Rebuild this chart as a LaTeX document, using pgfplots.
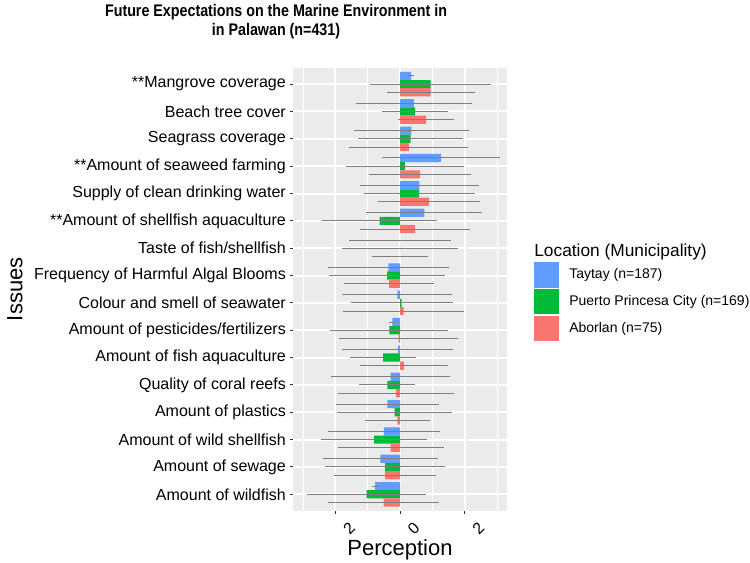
\documentclass[border=0pt]{standalone}
\usepackage{fontspec}
\setmainfont{Liberation Sans}
\newfontfamily\titlefont[FakeStretch=0.85]{Liberation Sans}
\usepackage{pgfplots}
\usepackage{pgfplotstable}
\pgfplotsset{compat=1.18}

\definecolor{tay}{HTML}{619CFF}
\definecolor{ppc}{HTML}{00BA38}
\definecolor{abo}{HTML}{F8766D}
\definecolor{panel}{HTML}{EBEBEB}
\definecolor{errc}{HTML}{7F7F7F}

% y = issue (1 = top), v = mean perception, e = half width of error bar
\pgfplotstableread{
y v e
1 0.34 0.03
2 0.43 1.73
3 0.35 1.715
4 1.27 1.77
5 0.60 1.79
6 0.75 1.735
7 0.00 1.52
8 -0.36 1.805
9 -0.08 1.645
10 -0.24 0.03
11 -0.07 1.665
12 -0.29 1.785
13 -0.39 1.525
14 -0.50 1.67
15 -0.61 1.725
16 -0.77 0.03
}\taytay

\pgfplotstableread{
y v e
1 0.95 1.815
2 0.47 0.965
3 0.33 1.57
4 0.15 1.775
5 0.59 1.66
6 -0.63 1.715
7 0.00 1.725
8 -0.40 1.74
9 0.05 1.52
10 -0.33 1.765
11 -0.52 0.955
12 -0.39 0.81
13 -0.17 1.72
14 -0.80 1.58
15 -0.46 1.795
16 -1.03 1.785
}\puerto

\pgfplotstableread{
y v e
1 0.95 1.31
2 0.81 0.80
3 0.27 1.78
4 0.62 1.52
5 0.90 1.52
6 0.47 1.65
7 0.00 0.81
8 -0.34 1.325
9 0.11 1.815
10 -0.04 1.79
11 0.12 1.315
12 -0.13 1.735
13 -0.08 0.955
14 -0.29 1.585
15 -0.46 1.51
16 -0.51 1.655
}\aborlan

\begin{document}
\begin{tikzpicture}
\begin{axis}[
    name=ax,
    scale only axis,
    width=160.05pt, height=332.25pt,
    xmin=-3.3, xmax=3.3,
    ymin=0.4, ymax=16.6,
    y dir=reverse,
    axis background/.style={fill=panel},
    axis line style={draw=none},
    xtick={-2,0,2},
    xticklabels={2,0,2},
    minor xtick={-3,-1,1,3},
    ytick={1,...,16},
    yticklabels={**Mangrove coverage, Beach tree cover, Seagrass coverage,
        **Amount of seaweed farming, Supply of clean drinking water,
        **Amount of shellfish aquaculture, Taste of fish/shellfish,
        Frequency of Harmful Algal Blooms, Colour and smell of seawater,
        Amount of pesticides/fertilizers, Amount of fish aquaculture,
        Quality of coral reefs, Amount of plastics, Amount of wild shellfish,
        Amount of sewage, Amount of wildfish},
    grid=both,
    major grid style={white, line width=1.5pt},
    minor grid style={white, line width=0.75pt},
    xtick pos=bottom, ytick pos=left,
    tick align=outside,
    major tick length=2.75pt,
    minor tick length=0pt,
    tick style={black!80, line width=0.75pt},
    yticklabel style={font=\fontsize{12}{14}\selectfont, inner sep=0pt, xshift=-2.7pt},
    xticklabel style={font=\fontsize{12}{14}\selectfont, rotate=45, anchor=center, inner sep=0pt, yshift=-14.5pt},
    every axis title shift=0pt,
    title={Future Expectations on the Marine Environment in\\in Palawan (n=431)},
    title style={at={(axis description cs:-0.081,1.1438)}, anchor=north, inner sep=0pt,
        align=center, font=\titlefont\bfseries\fontsize{12.6}{14.6}\selectfont},
    xlabel={Perception},
    xlabel style={at={(axis description cs:0.5,0)}, anchor=north, inner sep=0pt,
        yshift=-21.5pt, font=\fontsize{16.5}{19}\selectfont},
    ylabel={Issues},
    ylabel style={at={(axis description cs:-1.342,0.5)}, anchor=north, inner sep=0pt,
        font=\fontsize{16.5}{19}\selectfont},
    xbar,
    bar width=0.3,
    bar shift=0pt,
    error bars/error bar style={errc, line width=0.75pt},
    error bars/error mark options={errc, line width=0.75pt, mark size=1.4pt},
    legend image code/.code={\fill[#1] (0pt,-9.55pt) rectangle (18.75pt,9.55pt);},
    legend cell align=left,
    legend style={at={(axis description cs:1.128,0.562)}, anchor=north west,
        draw=none, fill=none, inner sep=0pt, row sep=1.1pt, column sep=7.5pt,
        font=\fontsize{10.5}{12}\selectfont, nodes={inner sep=0pt}},
]
\addplot[draw=none, fill=tay, error bars/.cd, x dir=both, x explicit]
    table[x=v, y expr=\thisrow{y}-0.3, x error=e] {\taytay};
\addlegendentry{Taytay (n=187)}
\addplot[draw=none, fill=ppc, error bars/.cd, x dir=both, x explicit]
    table[x=v, y=y, x error=e] {\puerto};
\addlegendentry{Puerto Princesa City (n=169)}
\addplot[draw=none, fill=abo, error bars/.cd, x dir=both, x explicit]
    table[x=v, y expr=\thisrow{y}+0.3, x error=e] {\aborlan};
\addlegendentry{Aborlan (n=75)}
\end{axis}
\node[anchor=base west, inner sep=0pt, font=\fontsize{13}{15}\selectfont]
    at ([shift={(20.5pt,-141.75pt)}]ax.north east) {Location (Municipality)};
\pgfresetboundingbox
\path ([shift={(-220pt,-39.2pt)}]ax.south west) rectangle ++(562.5pt,422.25pt);
\end{tikzpicture}
\end{document}
